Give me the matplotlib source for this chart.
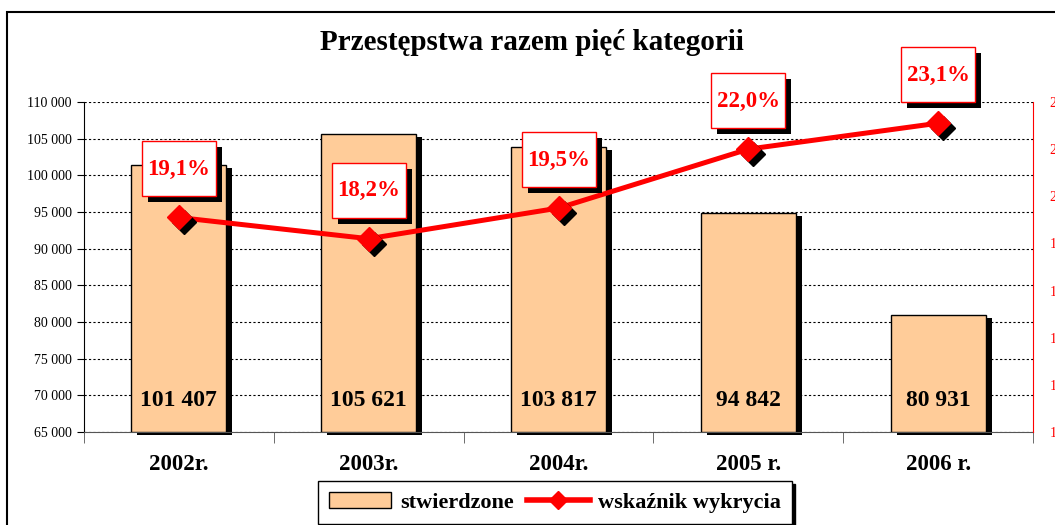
import numpy as np
import matplotlib
matplotlib.use('Agg')
import matplotlib.pyplot as plt
import matplotlib.transforms as mtransforms
from matplotlib.patches import Rectangle, Patch
from matplotlib.lines import Line2D

# data
years = ['2002r.', '2003r.', '2004r.', '2005 r.', '2006 r.']
stwierdzone = [101407, 105621, 103817, 94842, 80931]
wskaznik = [19.1, 18.2, 19.5, 22.0, 23.1]
left_ticks = np.arange(65000, 110001, 5000)
right_ticks = np.arange(10, 25, 2)

plt.rcParams['font.family'] = ['Liberation Serif', 'DejaVu Serif']

bar_color = '#FFCC99'
red = '#FF0000'
W, H = 1055, 525

fig = plt.figure(figsize=(W / 100, H / 100), dpi=100)

# outer chart frame (right/bottom edges run off the picture)
fig.patches.append(Rectangle((7 / W, -0.1), 1.2, 1 - 12 / H + 0.1,
                             transform=fig.transFigure, fill=False,
                             ec='black', lw=1.5))

fig.text(532 / W, 1 - 42 / H, 'Przestępstwa razem pięć kategorii',
         ha='center', va='center', fontsize=21, fontweight='bold')

ax = fig.add_axes([84 / W, 1 - 432 / H, 949 / W, 330 / H])
x = np.arange(len(years))
vals = np.array(stwierdzone)
ymin = 65000
ax.set_xlim(-0.5, len(years) - 0.5)
ax.set_ylim(ymin, 110000)

# bars with black drop shadow
bar_shadow = mtransforms.offset_copy(ax.transData, fig, x=6, y=-3, units='dots')
ax.bar(x, vals - ymin, bottom=ymin, width=0.5, color='black',
       transform=bar_shadow, clip_on=False, zorder=2)
ax.bar(x, vals - ymin, bottom=ymin, width=0.5, color=bar_color,
       ec='black', lw=1, zorder=3)

for xi, v in zip(x, vals):
    ax.annotate(f'{v:,}'.replace(',', ' '), (xi, ymin), xytext=(0, 23),
                textcoords='offset points', ha='center', va='center',
                fontsize=17, fontweight='bold', zorder=4)

ax.set_yticks(left_ticks)
ax.set_yticklabels([f'{v:,}'.replace(',', ' ') for v in left_ticks])
ax.yaxis.grid(True, ls=(0, (2, 2)), color='black', lw=0.8)
ax.set_axisbelow(True)
ax.tick_params(axis='y', length=5, pad=4, labelsize=10)

ax.set_xticks(x)
ax.set_xticklabels(years, fontsize=16.5, fontweight='bold')
ax.set_xticks(np.arange(-0.5, len(years), 1), minor=True)
ax.tick_params(axis='x', which='major', length=0, pad=16)
ax.tick_params(axis='x', which='minor', length=8, color='#555555')
ax.spines['top'].set_visible(False)
ax.spines['right'].set_visible(False)
ax.spines['bottom'].set_color('#555555')

# detection rate on the right axis (labels run off the edge, as in the original)
ax2 = ax.twinx()
ax2.set_ylim(10, 24)
ax2.set_yticks(right_ticks)
ax2.set_yticklabels([f'{v}%' for v in right_ticks])
ax2.tick_params(axis='y', length=0, pad=12, labelsize=10, labelcolor=red)
for s in ['top', 'left', 'bottom']:
    ax2.spines[s].set_visible(False)
ax2.spines['right'].set_color(red)

ax2.plot(x, wskaznik, color=red, lw=3.6, zorder=3)
mk_shadow = mtransforms.offset_copy(ax2.transData, fig, x=5, y=-5, units='dots')
ax2.plot(x, wskaznik, ls='none', marker='D', ms=12, color='black',
         transform=mk_shadow, clip_on=False, zorder=3)
ax2.plot(x, wskaznik, ls='none', marker='D', ms=12, color=red,
         clip_on=False, zorder=4)

for xi, p in zip(x, wskaznik):
    at = mtransforms.ScaledTranslation(xi, p, ax2.transData)
    ax2.add_patch(Rectangle((-37 + 6, 21 - 6), 74, 55, transform=at,
                            fc='black', ec='none', clip_on=False, zorder=5))
    ax2.add_patch(Rectangle((-37, 21), 74, 55, transform=at, fc='white',
                            ec=red, lw=1, clip_on=False, zorder=6))
    ax2.annotate(f'{p:.1f}'.replace('.', ',') + '%', (xi, p),
                 xytext=(0, 48 * 0.72), textcoords='offset points',
                 ha='center', va='center', color=red, fontsize=16.5,
                 fontweight='bold', zorder=7, annotation_clip=False)

handles = [Patch(fc=bar_color, ec='black', lw=1),
           Line2D([], [], color=red, lw=4, marker='D', ms=9)]
fig.legend(handles, ['stwierdzone', 'wskaźnik wykrycia'], loc='upper left',
           bbox_to_anchor=(318 / W, 1 - 481 / H), ncol=2, frameon=True,
           fancybox=False, edgecolor='black', framealpha=1,
           shadow={'color': 'black', 'alpha': 1}, borderaxespad=0,
           prop={'size': 16, 'weight': 'bold'}, handlelength=2.8,
           columnspacing=0.6, handletextpad=0.4, borderpad=0.5)

fig.savefig('out.png', dpi=100)
